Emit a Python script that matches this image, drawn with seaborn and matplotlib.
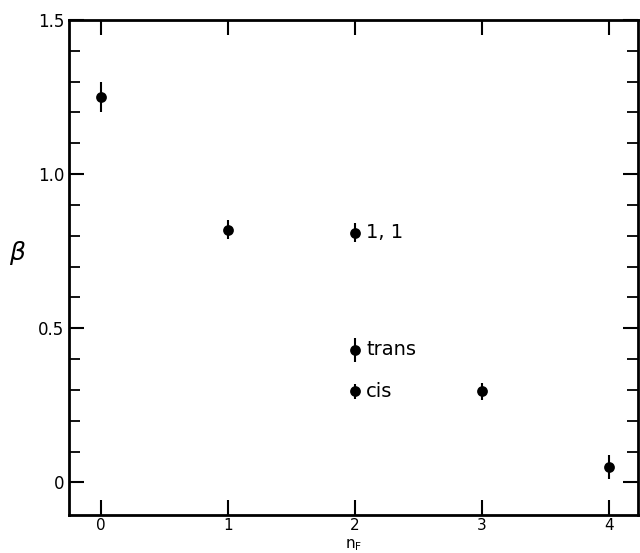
import matplotlib
matplotlib.use("Agg")
import matplotlib.pyplot as plt
import seaborn as sns
import pandas as pd
from matplotlib.ticker import MultipleLocator, FixedLocator

sns.set_theme(style="ticks")
plt.rcParams['font.family'] = ['DejaVu Sans']
plt.rcParams['text.color'] = 'black'
plt.rcParams['axes.labelcolor'] = 'black'
plt.rcParams['xtick.color'] = 'black'
plt.rcParams['ytick.color'] = 'black'

n_F = [0, 1, 2, 2, 2, 3, 4]
beta = [1.25, 0.82, 0.81, 0.43, 0.295, 0.295, 0.05]
beta_err = [0.05, 0.03, 0.03, 0.04, 0.025, 0.027, 0.04]
point_labels = ["", "", "1, 1", "trans", "cis", "", ""]

df = pd.DataFrame({"n_F": n_F, "beta": beta, "err": beta_err, "label": point_labels})

fig = plt.figure(figsize=(6.4, 5.53), dpi=100)
ax = fig.add_axes([0.108, 0.069, 0.889, 0.895])

ax.errorbar(df["n_F"], df["beta"], yerr=df["err"], fmt="none", ecolor="black",
            elinewidth=1.5, capsize=0)
sns.scatterplot(data=df, x="n_F", y="beta", ax=ax, color="black", s=60,
                edgecolor="black", linewidth=0, zorder=3, legend=False)

for xv, yv, lab in zip(df["n_F"], df["beta"], df["label"]):
    if lab:
        ax.text(xv + 0.09, yv, lab, fontsize=14, va="center", ha="left", color="black")

ax.set_xlim(-0.25, 4.23)
ax.set_ylim(-0.105, 1.5)
ax.xaxis.set_major_locator(MultipleLocator(1))
ax.set_yticks([0, 0.5, 1.0, 1.5])
ax.set_yticklabels(["0", "0.5", "1.0", "1.5"])
ax.yaxis.set_minor_locator(FixedLocator([0.1, 0.2, 0.3, 0.4, 0.6, 0.7, 0.8, 0.9,
                                         1.1, 1.2, 1.3, 1.4]))
ax.tick_params(axis="both", which="major", direction="in", length=11, width=1.5,
               top=True, right=True, labelsize=12, colors="black")
ax.tick_params(axis="x", which="major", pad=2, labelsize=11)
ax.tick_params(axis="y", which="minor", direction="in", length=8, width=1.3,
               left=True, right=True)
for s in ax.spines.values():
    s.set_linewidth(2)
    s.set_color("black")

ax.set_xlabel(r"$\mathrm{n}_\mathrm{F}$", fontsize=11, color="black")
ax.xaxis.set_label_coords(0.5, -0.046)
ax.xaxis.label.set_verticalalignment("top")
ax.set_ylabel(r"$\beta$", fontsize=18, rotation=0, color="black")
ax.yaxis.set_label_coords(-0.09, 0.5)

fig.savefig("out.png", dpi=100)
